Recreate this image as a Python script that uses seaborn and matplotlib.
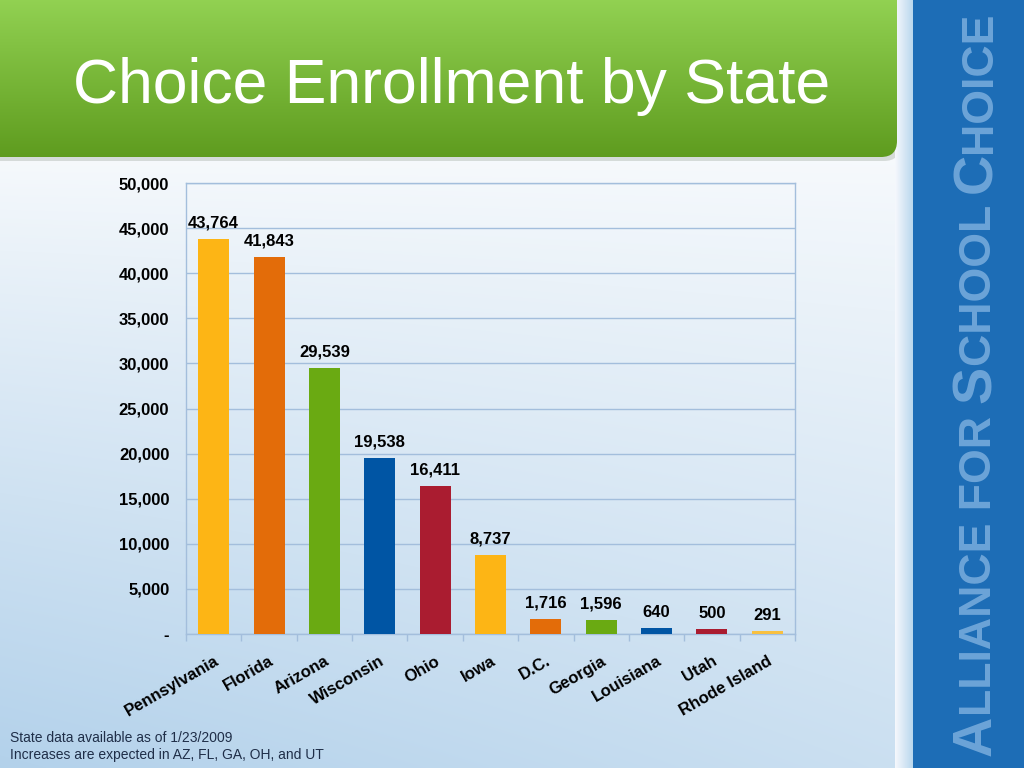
import numpy as np
import pandas as pd
import matplotlib
matplotlib.use("Agg")
import matplotlib.pyplot as plt
import seaborn as sns
from matplotlib import font_manager
from matplotlib.patches import FancyBboxPatch, Rectangle
from matplotlib.ticker import FuncFormatter, FixedLocator

# data
states = ["Pennsylvania", "Florida", "Arizona", "Wisconsin", "Ohio", "Iowa",
          "D.C.", "Georgia", "Louisiana", "Utah", "Rhode Island"]
enrollment = [43764, 41843, 29539, 19538, 16411, 8737, 1716, 1596, 640, 500, 291]
bar_colors = ["#FDB515", "#E36C09", "#6AAA12", "#0055A4", "#AA1C30", "#FDB515",
              "#E36C09", "#6AAA12", "#0055A4", "#AA1C30", "#F8C040"]
y_ticks = list(range(0, 50001, 5000))
title = "Choice Enrollment by State"
footnotes = ["State data available as of 1/23/2009",
             "Increases are expected in AZ, FL, GA, OH, and UT"]
# logo in small caps: (text, relative size)
logo_parts = [("A", 1.0), ("LLIANCE FOR ", 0.8), ("S", 1.0), ("CHOOL ", 0.8),
              ("C", 1.0), ("HOICE", 0.8)]

df = pd.DataFrame({"state": states, "enrollment": enrollment})

sns.set_theme(style="white")
plt.rcParams["font.family"] = ["Liberation Sans", "DejaVu Sans"]

installed = {f.name for f in font_manager.fontManager.ttflist}
narrow = "Liberation Sans Narrow" if "Liberation Sans Narrow" in installed else "Liberation Sans"

W, H = 1024, 768
fig = plt.figure(figsize=(W / 100, H / 100), dpi=100)

# ---- slide background (pixel coords, y down) ----
bg = fig.add_axes([0, 0, 1, 1], zorder=0)
bg.set_xlim(0, W)
bg.set_ylim(H, 0)
bg.axis("off")

yy, xx = np.mgrid[0:H, 0:W]
t = np.clip((yy - 150) / 620.0, 0, 1) ** 0.9 * (1 - 0.35 * xx / 900.0)
top = np.array([0.97, 0.98, 0.99])
low = np.array([0.70, 0.82, 0.92])
img = top[None, None, :] * (1 - t[..., None]) + low[None, None, :] * t[..., None]
bg.imshow(img, extent=(0, W, H, 0), aspect="auto", zorder=0)

# green header with rounded corner and a soft shadow
shadow = FancyBboxPatch((-30, -30), 930, 191, boxstyle="round,pad=0,rounding_size=16",
                        facecolor="#9aa39a", edgecolor="none", alpha=0.35, zorder=1)
bg.add_patch(shadow)
header_clip = FancyBboxPatch((-30, -30), 927, 187, boxstyle="round,pad=0,rounding_size=16",
                             facecolor="none", edgecolor="none", zorder=2)
bg.add_patch(header_clip)
g = np.linspace(0, 1, 160)[:, None]
g_top = np.array([0.57, 0.82, 0.32])
g_bot = np.array([0.37, 0.61, 0.12])
gimg = g_top[None, None, :] * (1 - g[..., None]) + g_bot[None, None, :] * g[..., None]
gimg = np.repeat(gimg, 2, axis=1)
himg = bg.imshow(gimg, extent=(0, 900, 158, 0), aspect="auto", zorder=2)
himg.set_clip_path(header_clip)
bg.text(452, 86, title, color="white", fontsize=45, ha="center", va="center", zorder=3)

# light strip then blue band on the right
strip = np.linspace(0, 1, 20)[None, :]
s_img = np.array([0.96, 0.97, 0.99])[None, None, :] * (1 - strip[..., None]) + \
    np.array([0.72, 0.84, 0.93])[None, None, :] * strip[..., None]
s_img = np.repeat(s_img, 2, axis=0)
bg.imshow(s_img, extent=(895, 914, H, 0), aspect="auto", zorder=1)
bg.add_patch(Rectangle((913, 0), 111, H, facecolor="#1D6DB6", edgecolor="none", zorder=2))

# vertical logo text, laid out piece by piece (pixel coords, y up)
band = fig.add_axes([913 / W, 0, 111 / W, 1], zorder=1)
band.set_xlim(0, 111)
band.set_ylim(0, H)
band.axis("off")
renderer = fig.canvas.get_renderer()


def place_logo(base_size):
    arts = []
    y = 12
    for txt, rel in logo_parts:
        a = band.text(0, y, txt, fontsize=base_size * rel, family=narrow,
                      fontweight="bold", color="#6CA4D8", rotation=90,
                      rotation_mode="anchor", ha="left", va="baseline")
        arts.append(a)
        y += a.get_window_extent(renderer).height
    return arts, y - 12


arts, used = place_logo(40)
for a in arts:
    a.remove()
arts, used = place_logo(40 * 745 / used)
big = arts[0].get_window_extent(renderer).width
for a in arts:
    a.set_x(56 + big * 0.42)

# ---- the chart ----
ax = fig.add_axes([186 / W, 1 - 634 / H, 609 / W, 451 / H], zorder=2)
ax.patch.set_alpha(0)
sns.barplot(data=df, x="state", y="enrollment", hue="state", palette=bar_colors,
            legend=False, width=0.56, saturation=1, linewidth=0, edgecolor="none",
            ax=ax, zorder=3)
ax.set_xlim(-0.5, len(states) - 0.5)
ax.set_ylim(0, 50000)
ax.set_xlabel("")
ax.set_ylabel("")

grid_c = "#A3BEDC"
ax.yaxis.set_major_locator(FixedLocator(y_ticks))
ax.yaxis.set_major_formatter(FuncFormatter(lambda v, _: "-" if v == 0 else f"{v:,.0f}"))
ax.grid(axis="y", color=grid_c, linewidth=1.0, zorder=0)
ax.set_axisbelow(True)
for sp in ax.spines.values():
    sp.set_visible(True)
    sp.set_color(grid_c)
    sp.set_linewidth(1.0)

ax.tick_params(axis="y", length=0, pad=12, labelsize=12, labelcolor="black")
for lab in ax.get_yticklabels():
    lab.set_fontweight("bold")

ax.set_xticks(range(len(states)))
ax.set_xticklabels(states, rotation=30, ha="right", rotation_mode="anchor",
                   fontsize=12, fontweight="bold", color="black")
ax.tick_params(axis="x", which="major", length=0, pad=14)
ax.set_xticks(np.arange(-0.5, len(states), 1.0), minor=True)
ax.tick_params(axis="x", which="minor", bottom=True, length=5, width=1,
               color=grid_c, direction="out")

for cont in ax.containers:
    ax.bar_label(cont, fmt="{:,.0f}", padding=6, fontsize=12, fontweight="bold",
                 color="black")

# footnote
for i, line in enumerate(footnotes):
    fig.text(10 / W, 1 - (738 + i * 17) / H, line, fontsize=10, color="#1F2E48",
             ha="left", va="center")

fig.savefig("out.png", dpi=100)
